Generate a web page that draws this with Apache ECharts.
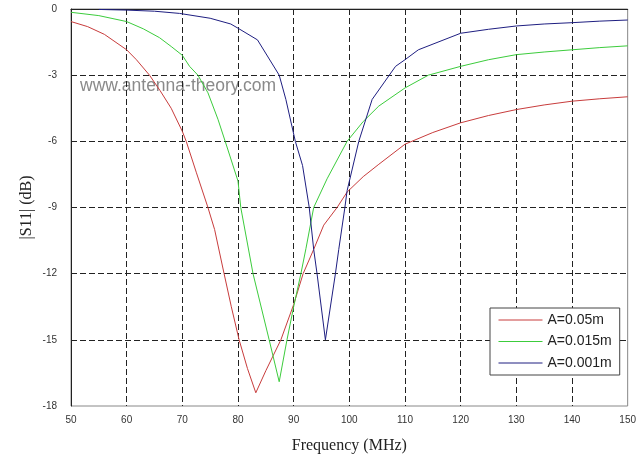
<!DOCTYPE html>
<html>
<head>
<meta charset="utf-8">
<script src="https://cdn.jsdelivr.net/npm/echarts@6/dist/echarts.min.js"></script>
<style>
html, body { margin: 0; padding: 0; background: #fff; }
#chart { width: 639px; height: 459px; }
</style>
</head>
<body>
<div id="chart"></div>
<script>
// |S11| (dB), as [frequency MHz, dB]
var redData = [[50,-0.57],[53,-0.8],[56,-1.15],[60,-1.85],[61.75,-2.3],[64.1,-3],[66,-3.7],[68,-4.5],[70,-5.55],[70.7,-6],[72.5,-7.4],[74.6,-9],[75.8,-10],[77.5,-12],[78.8,-13.5],[80.2,-15],[81.7,-16.3],[83.2,-17.4],[85,-16.4],[87.7,-15],[90,-13.4],[91.7,-12],[93.6,-10.9],[95.4,-9.8],[97.8,-9],[99.6,-8.3],[102.5,-7.6],[105.3,-7.04],[110,-6.13],[115,-5.6],[120,-5.16],[125,-4.83],[130,-4.56],[135,-4.35],[140,-4.18],[145,-4.07],[150,-3.98]];
var greenData = [[50,-0.15],[55,-0.3],[60,-0.57],[63,-0.9],[65.9,-1.3],[68,-1.7],[70,-2.1],[71.3,-2.6],[72.8,-3],[74.6,-3.8],[76.4,-5],[77.7,-6],[80,-7.8],[80.5,-9],[82.7,-12],[85.6,-15],[87.4,-16.9],[88.8,-15],[90,-13.5],[91.3,-12],[92.2,-10.87],[93.6,-9],[96,-7.7],[99.6,-6],[102.5,-5.1],[105.3,-4.4],[110,-3.58],[114.2,-3.0],[120,-2.6],[125,-2.3],[130,-2.07],[135,-1.95],[140,-1.85],[145,-1.75],[150,-1.67]];
var blueData = [[55,-0.02],[60,-0.05],[65,-0.1],[69.5,-0.2],[75,-0.42],[78.7,-0.68],[80,-0.87],[83.5,-1.4],[87.4,-3],[88.6,-4.1],[90.3,-6],[91.6,-7.1],[92.8,-9],[93.6,-10.9],[94.2,-12],[95.7,-15],[97.5,-12],[98.1,-10.9],[99.2,-9],[99.6,-8.24],[101.7,-6],[104.1,-4.1],[108.3,-2.6],[110,-2.3],[112.4,-1.85],[120,-1.1],[125,-0.92],[130,-0.77],[135,-0.68],[140,-0.62],[145,-0.55],[150,-0.5]];
var seriesNames = ['A=0.05m', 'A=0.015m', 'A=0.001m'];
var seriesColors = ['#c83c3c', '#3ccc3c', '#1e1e80'];

var chart = echarts.init(document.getElementById('chart'));

var gridLine = {
    show: true,
    showMinLine: false,
    showMaxLine: false,
    lineStyle: { color: '#222', type: [6, 3], width: 1 }
};

var option = {
    backgroundColor: '#fff',
    animation: false,
    grid: { left: 71, right: 9, top: 9, bottom: 51, show: true, borderColor: '#888', borderWidth: 1 },
    graphic: [{
        type: 'text',
        left: 80,
        top: 77,
        z: 0,
        style: {
            text: 'www.antenna-theory.com',
            fill: '#8a8a8a',
            font: '17.5px "Liberation Sans", Arial, sans-serif'
        }
    }],
    legend: {
        data: seriesNames,
        orient: 'vertical',
        left: 490,
        top: 308,
        itemWidth: 44,
        itemHeight: 14,
        itemGap: 7.5,
        padding: [5, 8, 5, 8],
        backgroundColor: '#fff',
        borderColor: '#444',
        borderWidth: 1,
        itemStyle: { opacity: 0 },
        lineStyle: { width: 1 },
        textStyle: { fontSize: 14, fontFamily: 'Liberation Sans', color: '#222' }
    },
    xAxis: {
        type: 'value',
        min: 50,
        max: 150,
        interval: 10,
        name: 'Frequency (MHz)',
        nameLocation: 'middle',
        nameGap: 32,
        nameMoveOverlap: false,
        nameTextStyle: { fontSize: 16, fontFamily: 'Liberation Serif', color: '#222' },
        axisLine: { show: true, lineStyle: { color: '#222' } },
        axisTick: { show: false },
        axisLabel: { fontSize: 10, fontFamily: 'Liberation Sans', color: '#333', margin: 9 },
        splitLine: gridLine
    },
    yAxis: {
        type: 'value',
        min: -18,
        max: 0,
        interval: 3,
        name: '|S11| (dB)',
        nameLocation: 'middle',
        nameGap: 36,
        nameMoveOverlap: false,
        nameTextStyle: { fontSize: 16, fontFamily: 'Liberation Serif', color: '#222' },
        axisLine: { show: true, lineStyle: { color: '#222' } },
        axisTick: { show: false },
        axisLabel: { fontSize: 10, fontFamily: 'Liberation Sans', color: '#333', margin: 14 },
        splitLine: gridLine
    },
    series: [redData, greenData, blueData].map(function (d, i) {
        return {
            name: seriesNames[i],
            type: 'line',
            data: d,
            symbol: 'none',
            color: seriesColors[i],
            lineStyle: { width: 1, color: seriesColors[i] },
            z: 3
        };
    })
};

chart.setOption(option);
</script>
</body>
</html>
